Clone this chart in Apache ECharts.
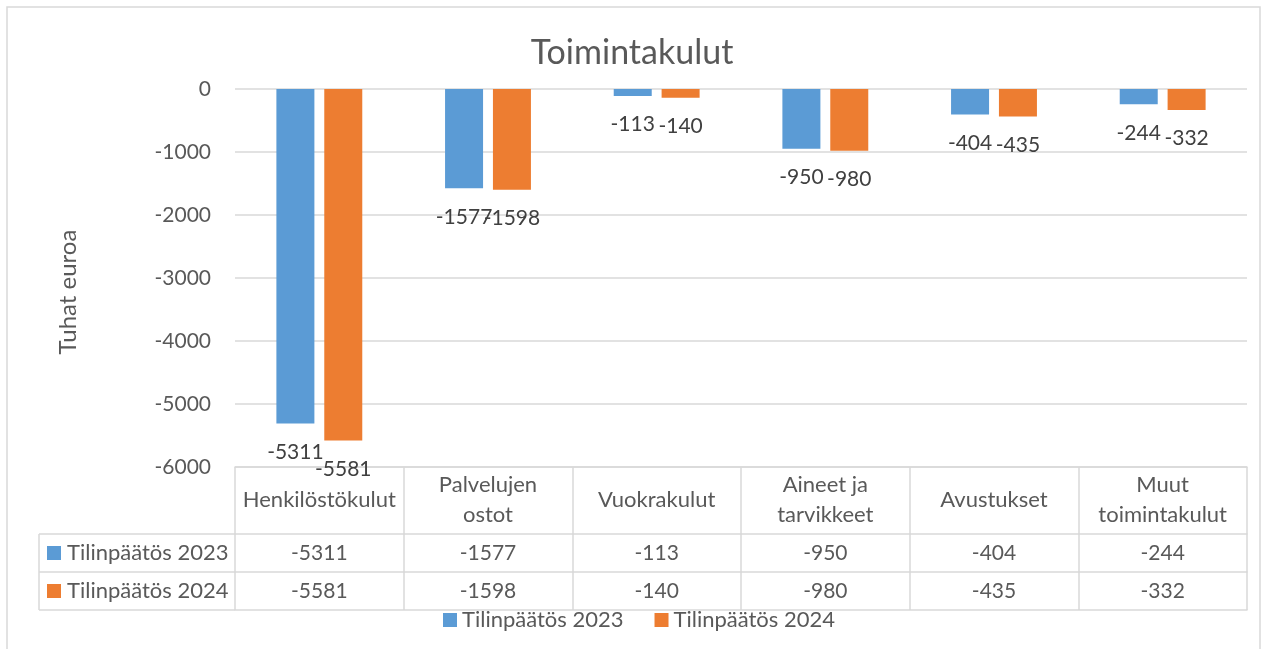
<!DOCTYPE html>
<html>
<head>
<meta charset="utf-8">
<script src="https://cdn.jsdelivr.net/npm/echarts@6/dist/echarts.min.js"></script>
<style>
  html, body { margin: 0; padding: 0; background: #fff; }
  #chart { width: 1264px; height: 649px; }
</style>
</head>
<body>
<div id="chart"></div>
<script>
const categories = ["Henkilöstökulut", "Palvelujen\nostot", "Vuokrakulut", "Aineet ja\ntarvikkeet", "Avustukset", "Muut\ntoimintakulut"];
const seriesNames = ["Tilinpäätös 2023", "Tilinpäätös 2024"];
const values2023 = [-5311, -1577, -113, -950, -404, -244];
const values2024 = [-5581, -1598, -140, -980, -435, -332];
const colors = ["#5B9BD5", "#ED7D31"];
const yMin = -6000, yMax = 0, yStep = 1000;

const font = "Lato";
const textColor = "#595959";
const lineColor = "#D9D9D9";

// grid edges (px) shared by table cells drawn outside the axes
const gridLeft = 235, gridTop = 89, gridBottom = 467;
const rowTops = [534, 572, 610];

const chart = echarts.init(document.getElementById("chart"));

function tableAxis(offset, tickLen, formatter) {
  return {
    type: "category",
    data: categories,
    position: "bottom",
    offset: offset,
    axisLine: { show: true, onZero: false, lineStyle: { color: lineColor, width: 1.5 } },
    axisTick: { show: tickLen > 0, length: tickLen, lineStyle: { color: lineColor, width: 1.5 } },
    axisLabel: {
      show: !!formatter,
      interval: 0,
      formatter: formatter,
      margin: 19,
      verticalAlign: "middle",
      color: textColor,
      fontSize: 21,
      fontFamily: font,
    },
  };
}

const leftCells = [];
// horizontal lines of the series-name column
rowTops.forEach((y) => {
  leftCells.push({
    type: "line",
    shape: { x1: 39, y1: y, x2: gridLeft, y2: y },
    style: { stroke: lineColor, lineWidth: 1.5 },
  });
});
leftCells.push({
  type: "line",
  shape: { x1: 39, y1: rowTops[0], x2: 39, y2: rowTops[2] },
  style: { stroke: lineColor, lineWidth: 1.5 },
});
seriesNames.forEach((name, i) => {
  const cy = (rowTops[i] + rowTops[i + 1]) / 2;
  leftCells.push({
    type: "rect",
    shape: { x: 47, y: cy - 7, width: 14, height: 14 },
    style: { fill: colors[i] },
  });
  leftCells.push({
    type: "text",
    x: 67,
    y: cy,
    style: { text: name, fill: textColor, font: "22px " + font, verticalAlign: "middle" },
  });
});

chart.setOption({
  animation: false,
  color: colors,
  title: {
    text: "Toimintakulut",
    left: "center",
    top: 31,
    textStyle: { color: textColor, fontSize: 34, fontWeight: "normal", fontFamily: font },
  },
  legend: {
    data: seriesNames,
    left: 438,
    top: 604,
    icon: "rect",
    itemWidth: 14,
    itemHeight: 14,
    itemGap: 31,
    textStyle: { color: textColor, fontSize: 22, fontFamily: font },
  },
  grid: { left: gridLeft, right: 17, top: gridTop, bottom: 649 - gridBottom },
  xAxis: [
    {
      type: "category",
      data: categories,
      position: "bottom",
      axisLine: { show: true, onZero: false, lineStyle: { color: lineColor, width: 1.5 } },
      axisTick: { show: true, length: 67, lineStyle: { color: lineColor, width: 1.5 } },
      axisLabel: {
        interval: 0,
        margin: 33,
        verticalAlign: "middle",
        lineHeight: 30,
        color: textColor,
        fontSize: 22,
        fontFamily: font,
      },
    },
    tableAxis(67, 38, (v, i) => String(values2023[i])),
    tableAxis(105, 38, (v, i) => String(values2024[i])),
    tableAxis(143, 0, null),
  ],
  yAxis: {
    type: "value",
    min: yMin,
    max: yMax,
    interval: yStep,
    axisLine: { show: false },
    axisTick: { show: false },
    axisLabel: { margin: 24, color: textColor, fontSize: 21, fontFamily: font, formatter: (v) => String(v) },
    splitLine: { lineStyle: { color: lineColor, width: 1.5 } },
  },
  series: [values2023, values2024].map((values, i) => ({
    name: seriesNames[i],
    type: "bar",
    data: values,
    barWidth: 38,
    barGap: "26%",
    itemStyle: { color: colors[i] },
    label: {
      show: true,
      position: "bottom",
      distance: 18,
      color: "#404040",
      fontSize: 21,
      fontFamily: font,
    },
  })),
  graphic: [
    {
      type: "rect",
      shape: { x: 7, y: 7, width: 1253, height: 680 },
      style: { fill: "none", stroke: lineColor, lineWidth: 1.5 },
      silent: true,
    },
    {
      type: "text",
      x: 68,
      y: 292,
      rotation: Math.PI / 2,
      style: { text: "Tuhat euroa", fill: textColor, font: "24px " + font, align: "center", verticalAlign: "middle" },
    },
    ...leftCells,
  ],
});
</script>
</body>
</html>
